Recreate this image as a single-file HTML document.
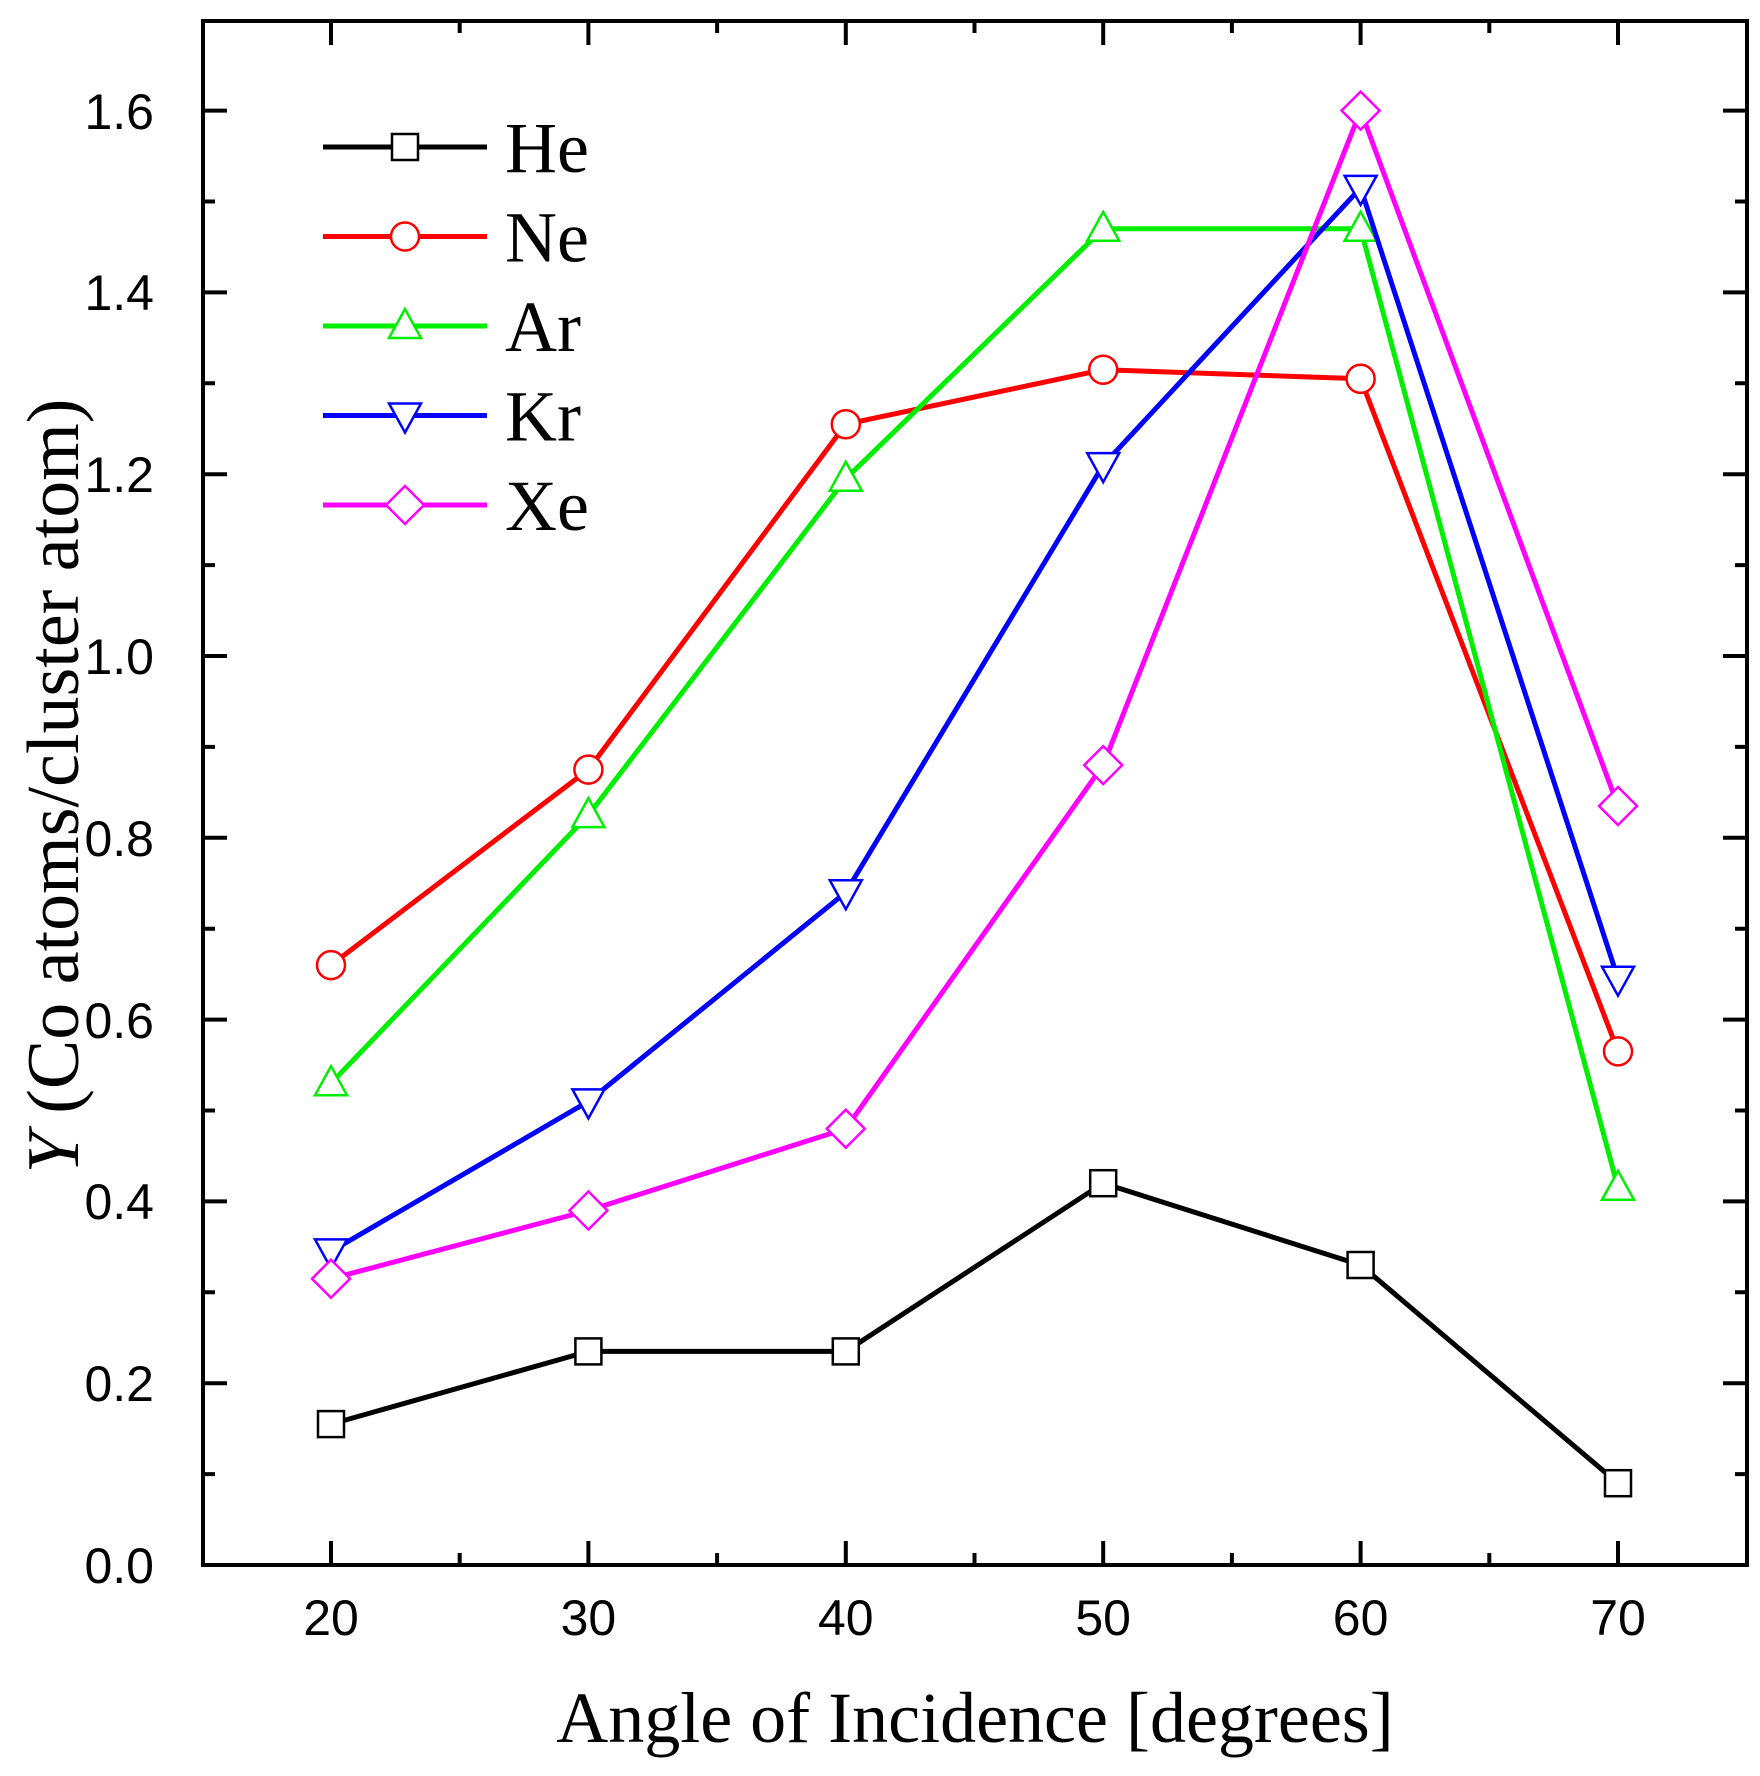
<!DOCTYPE html>
<html><head><meta charset="utf-8"><style>html,body{margin:0;padding:0;background:#fff}</style></head>
<body>
<svg width="1760" height="1771" viewBox="0 0 1760 1771" xmlns="http://www.w3.org/2000/svg">
<defs>
<rect id="mhe" x="-13" y="-13" width="26" height="26" fill="#fff" stroke="#000" stroke-width="2.5"/>
<circle id="mne" r="14" fill="#fff" stroke="#ff0000" stroke-width="2.5"/>
<polygon id="mar" points="0,-17 16,12 -16,12" fill="#fff" stroke="#00ee00" stroke-width="2.5"/>
<polygon id="mkr" points="0,17 16,-12 -16,-12" fill="#fff" stroke="#0000ff" stroke-width="2.5"/>
<polygon id="mxe" points="0,-19 19,0 0,19 -19,0" fill="#fff" stroke="#ff00ff" stroke-width="2.5"/>
</defs>
<rect width="1760" height="1771" fill="#fff"/>
<rect x="203" y="21" width="1544" height="1544" fill="none" stroke="#000" stroke-width="4"/>
<g stroke="#000" stroke-width="4">
<path d="M331,1565v-24M588.4,1565v-24M845.8,1565v-24M1103.2,1565v-24M1360.6,1565v-24M1618,1565v-24
M331,21v24M588.4,21v24M845.8,21v24M1103.2,21v24M1360.6,21v24M1618,21v24
M459.7,1565v-12M717.1,1565v-12M974.5,1565v-12M1231.9,1565v-12M1489.3,1565v-12
M459.7,21v12M717.1,21v12M974.5,21v12M1231.9,21v12M1489.3,21v12"/>
<path d="M203,1383.2h24M203,1201.4h24M203,1019.6h24M203,837.8h24M203,656h24M203,474.2h24M203,292.4h24M203,110.6h24
M203,1474.1h12M203,1292.3h12M203,1110.5h12M203,928.7h12M203,746.9h12M203,565.1h12M203,383.3h12M203,201.5h12
M1747,1383.2h-24M1747,1201.4h-24M1747,1019.6h-24M1747,837.8h-24M1747,656h-24M1747,474.2h-24M1747,292.4h-24M1747,110.6h-24
M1747,1474.1h-12M1747,1292.3h-12M1747,1110.5h-12M1747,928.7h-12M1747,746.9h-12M1747,565.1h-12M1747,383.3h-12M1747,201.5h-12"/>
</g>
<g font-family="Liberation Sans, sans-serif" font-size="50" text-anchor="middle">
<text x="331" y="1635">20</text><text x="588.4" y="1635">30</text><text x="845.8" y="1635">40</text>
<text x="1103.2" y="1635">50</text><text x="1360.6" y="1635">60</text><text x="1618" y="1635">70</text>
</g>
<g font-family="Liberation Sans, sans-serif" font-size="50" text-anchor="end">
<text x="154" y="1583">0.0</text><text x="154" y="1401">0.2</text><text x="154" y="1219">0.4</text>
<text x="154" y="1038">0.6</text><text x="154" y="856">0.8</text><text x="154" y="674">1.0</text>
<text x="154" y="492">1.2</text><text x="154" y="310">1.4</text><text x="154" y="129">1.6</text>
</g>
<text x="975" y="1742" font-family="Liberation Serif, serif" font-size="72" text-anchor="middle">Angle of Incidence [degrees]</text>
<text transform="translate(78,786) rotate(-90)" font-family="Liberation Serif, serif" font-size="74" text-anchor="middle"><tspan font-style="italic">Y</tspan> (Co atoms/cluster atom)</text>

<polyline fill="none" stroke-width="5" stroke-linejoin="round" stroke="#000" points="331,1424.1 588.4,1351.4 845.8,1351.4 1103.2,1183.2 1360.6,1265 1618,1483.2"/>
<use href="#mhe" x="331" y="1424.1"/><use href="#mhe" x="588.4" y="1351.4"/><use href="#mhe" x="845.8" y="1351.4"/><use href="#mhe" x="1103.2" y="1183.2"/><use href="#mhe" x="1360.6" y="1265"/><use href="#mhe" x="1618" y="1483.2"/>

<polyline fill="none" stroke-width="5" stroke-linejoin="round" stroke="#ff0000" points="331,965.1 588.4,769.6 845.8,424.2 1103.2,369.7 1360.6,378.8 1618,1051.4"/>
<use href="#mne" x="331" y="965.1"/><use href="#mne" x="588.4" y="769.6"/><use href="#mne" x="845.8" y="424.2"/><use href="#mne" x="1103.2" y="369.7"/><use href="#mne" x="1360.6" y="378.8"/><use href="#mne" x="1618" y="1051.4"/>

<polyline fill="none" stroke-width="5" stroke-linejoin="round" stroke="#00ee00" points="331,1083.2 588.4,815.1 845.8,478.7 1103.2,228.8 1360.6,228.8 1618,1187.8"/>
<use href="#mar" x="331" y="1083.2"/><use href="#mar" x="588.4" y="815.1"/><use href="#mar" x="845.8" y="478.7"/><use href="#mar" x="1103.2" y="228.8"/><use href="#mar" x="1360.6" y="228.8"/><use href="#mar" x="1618" y="1187.8"/>

<polyline fill="none" stroke-width="5" stroke-linejoin="round" stroke="#0000ff" points="331,1251.4 588.4,1101.4 845.8,892.3 1103.2,465.1 1360.6,187.9 1618,978.7"/>
<use href="#mkr" x="331" y="1251.4"/><use href="#mkr" x="588.4" y="1101.4"/><use href="#mkr" x="845.8" y="892.3"/><use href="#mkr" x="1103.2" y="465.1"/><use href="#mkr" x="1360.6" y="187.9"/><use href="#mkr" x="1618" y="978.7"/>

<polyline fill="none" stroke-width="5" stroke-linejoin="round" stroke="#ff00ff" points="331,1278.7 588.4,1210.5 845.8,1128.7 1103.2,765.1 1360.6,110.6 1618,806"/>
<use href="#mxe" x="331" y="1278.7"/><use href="#mxe" x="588.4" y="1210.5"/><use href="#mxe" x="845.8" y="1128.7"/><use href="#mxe" x="1103.2" y="765.1"/><use href="#mxe" x="1360.6" y="110.6"/><use href="#mxe" x="1618" y="806"/>

<g stroke-width="5">
<line x1="323" y1="147" x2="487" y2="147" stroke="#000"/>
<line x1="323" y1="236.5" x2="487" y2="236.5" stroke="#ff0000"/>
<line x1="323" y1="326" x2="487" y2="326" stroke="#00ee00"/>
<line x1="323" y1="415.5" x2="487" y2="415.5" stroke="#0000ff"/>
<line x1="323" y1="505" x2="487" y2="505" stroke="#ff00ff"/>
</g>
<use href="#mhe" x="405" y="147"/><use href="#mne" x="405" y="236.5"/><use href="#mar" x="405" y="326"/><use href="#mkr" x="405" y="415.5"/><use href="#mxe" x="405" y="505"/>
<g font-family="Liberation Serif, serif" font-size="72">
<text x="505" y="172">He</text><text x="505" y="261.5">Ne</text><text x="505" y="351">Ar</text><text x="505" y="440.5">Kr</text><text x="505" y="530">Xe</text>
</g>
</svg>
</body></html>
